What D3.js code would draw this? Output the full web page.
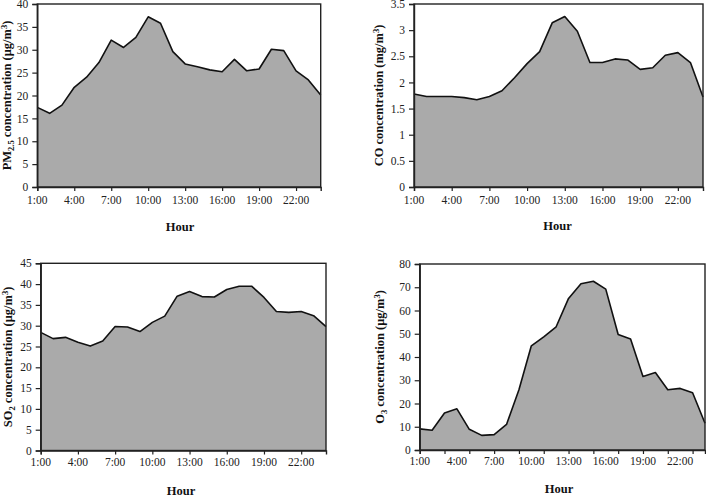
<!DOCTYPE html>
<html>
<head>
<meta charset="utf-8">
<script src="https://cdn.jsdelivr.net/npm/d3@7"></script>
<style>
  html, body { margin: 0; padding: 0; background: #ffffff; }
  svg { display: block; font-family: "Liberation Serif", "Times New Roman", serif; }
</style>
</head>
<body>
<svg id="chart" width="706" height="498"></svg>
<script>
// ---- Data ----
const hours = d3.range(1, 25);
const pm25 = [17.4, 16.1, 17.9, 21.8, 24.0, 27.2, 32.1, 30.5, 32.7, 37.2, 35.8, 29.6,
              26.9, 26.3, 25.6, 25.2, 27.9, 25.4, 25.8, 30.1, 29.8, 25.4, 23.4, 20.1];
const co = [1.78, 1.73, 1.73, 1.73, 1.71, 1.67, 1.73, 1.84, 2.09, 2.36, 2.59, 3.14,
            3.26, 2.98, 2.38, 2.38, 2.45, 2.43, 2.25, 2.28, 2.52, 2.57, 2.38, 1.72];
const so2 = [28.4, 26.9, 27.2, 26.0, 25.1, 26.3, 29.8, 29.7, 28.6, 30.8, 32.3, 37.1,
             38.2, 37.0, 36.9, 38.7, 39.5, 39.5, 36.8, 33.4, 33.2, 33.4, 32.4, 29.8];
const o3 = [9.1, 8.5, 15.9, 17.7, 8.9, 6.3, 6.6, 11.0, 25.9, 44.8, 48.7, 53.0,
            65.2, 71.5, 72.6, 69.2, 49.7, 47.7, 31.6, 33.3, 25.9, 26.5, 24.6, 11.5];
const xLabelHours = [1, 4, 7, 10, 13, 16, 19, 22];
const xTickHours3 = [1, 4, 7, 10, 13, 16, 19, 22];
const xTickHours2 = [1, 3, 5, 7, 9, 11, 13, 15, 17, 19, 21, 23];
const pm25Ticks = [0, 5, 10, 15, 20, 25, 30, 35, 40];
const coTicks = [0, 0.5, 1, 1.5, 2, 2.5, 3, 3.5];
const so2Ticks = [0, 5, 10, 15, 20, 25, 30, 35, 40, 45];
const o3Ticks = [0, 10, 20, 30, 40, 50, 60, 70, 80];

// ---- Panel layout ----
const panels = [
  { values: pm25, yMax: 40, yTicks: pm25Ticks, yFmt: d => String(d), xTicks: xTickHours3,
    x0: 37.3, x1: 320.7, y0: 4, y1: 187, xLabY: 204.3, hourX: 180, hourY: 231, ylabX: 11,
    ylab: [["PM", ""], ["2.5", "sub"], [" concentration (μg/m", ""], ["3", "sup"], [")", ""]] },
  { values: co, yMax: 3.5, yTicks: coTicks, yFmt: d => String(d), xTicks: xTickHours3,
    x0: 414, x1: 703, y0: 4, y1: 187, xLabY: 204.3, hourX: 557.5, hourY: 230, ylabX: 383,
    ylab: [["CO concentration (mg/m", ""], ["3", "sup"], [")", ""]] },
  { values: so2, yMax: 45, yTicks: so2Ticks, yFmt: d => String(d), xTicks: xTickHours3,
    x0: 40.7, x1: 326, y0: 263.3, y1: 450.5, xLabY: 466.3, hourX: 181, hourY: 494.5, ylabX: 12,
    ylab: [["SO", ""], ["2", "sub"], [" concentration (μg/m", ""], ["3", "sup"], [")", ""]] },
  { values: o3, yMax: 80, yTicks: o3Ticks, yFmt: d => String(d), xTicks: xTickHours2,
    x0: 419.7, x1: 705, y0: 264, y1: 450, xLabY: 465, hourX: 559, hourY: 493, ylabX: 384,
    ylab: [["O", ""], ["3", "sub"], [" concentration (μg/m", ""], ["3", "sup"], [")", ""]] }
];

const svg = d3.select("#chart");

panels.forEach(p => {
  const x = d3.scaleLinear().domain([1, 24]).range([p.x0, p.x1]);
  const y = d3.scaleLinear().domain([0, p.yMax]).range([p.y1, p.y0]);
  const g = svg.append("g");
  const data = hours.map((h, i) => ({ h, v: p.values[i] }));

  // area fill
  g.append("path")
    .datum(data)
    .attr("fill", "#aaaaaa")
    .attr("d", d3.area().x(d => x(d.h)).y0(y(0)).y1(d => y(d.v)));

  // outline line
  g.append("path")
    .datum(data)
    .attr("fill", "none")
    .attr("stroke", "#111")
    .attr("stroke-width", 1.6)
    .attr("stroke-linejoin", "round")
    .attr("d", d3.line().x(d => x(d.h)).y(d => y(d.v)));

  // frame
  g.append("rect")
    .attr("x", p.x0).attr("y", p.y0)
    .attr("width", p.x1 - p.x0).attr("height", p.y1 - p.y0)
    .attr("fill", "none").attr("stroke", "#222").attr("stroke-width", 1.4);

  // y axis
  const yAxis = d3.axisLeft(y).tickValues(p.yTicks).tickFormat(p.yFmt).tickSize(5).tickPadding(4);
  const ya = g.append("g").attr("transform", `translate(${p.x0},0)`).call(yAxis);
  ya.select(".domain").attr("stroke", "#222").attr("stroke-width", 1.4);
  ya.selectAll(".tick line").attr("stroke", "#222").attr("stroke-width", 1.2);
  ya.selectAll(".tick text").attr("font-size", 11.5).attr("fill", "#222")
    .attr("font-family", "'Liberation Serif', 'Times New Roman', serif");

  // x axis tick marks
  const xAxis = d3.axisBottom(x).tickValues(p.xTicks).tickFormat("").tickSize(4);
  const xa = g.append("g").attr("transform", `translate(0,${p.y1})`).call(xAxis);
  xa.select(".domain").attr("stroke", "#222").attr("stroke-width", 1.4);
  xa.selectAll(".tick line").attr("stroke", "#222").attr("stroke-width", 1.2);

  // x tick labels
  g.selectAll(".xlab").data(xLabelHours).enter().append("text")
    .attr("x", d => x(d)).attr("y", p.xLabY)
    .attr("text-anchor", "middle").attr("font-size", 11.5).attr("fill", "#222")
    .text(d => d + ":00");

  // x title
  g.append("text").attr("x", p.hourX).attr("y", p.hourY)
    .attr("text-anchor", "middle").attr("font-size", 12.5).attr("font-weight", "bold")
    .attr("fill", "#111").text("Hour");

  // y title
  const cy = (p.y0 + p.y1) / 2;
  const t = g.append("text")
    .attr("transform", `translate(${p.ylabX},${cy}) rotate(-90)`)
    .attr("text-anchor", "middle").attr("font-size", 12.5).attr("font-weight", "bold")
    .attr("fill", "#111");
  p.ylab.forEach(([s, kind]) => {
    const ts = t.append("tspan").text(s);
    if (kind === "sub") ts.attr("font-size", 8.5).attr("baseline-shift", "-3");
    if (kind === "sup") ts.attr("font-size", 8.5).attr("baseline-shift", "4");
  });
});
</script>
</body>
</html>
